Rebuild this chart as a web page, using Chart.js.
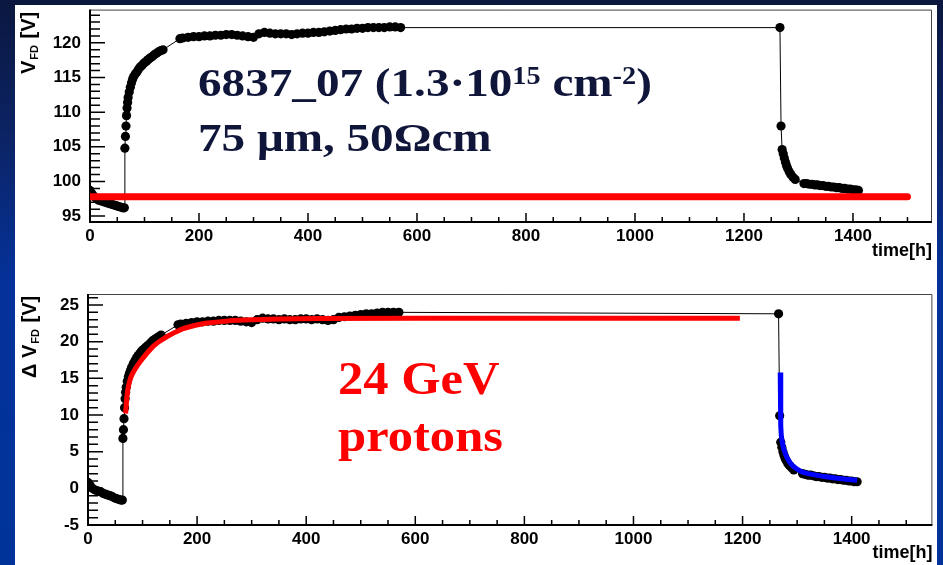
<!DOCTYPE html>
<html lang="en">
<head>
<meta charset="UTF-8">
<title>6837_07 full depletion voltage vs time</title>
<script src="https://cdn.jsdelivr.net/npm/chart.js"></script>
<style>
    body {
        margin: 0;
        width: 943px;
        height: 565px;
        overflow: hidden;
        position: relative;
        background: linear-gradient(180deg, #0a173f 0%, #0c2466 25%, #04329a 50%, #003399 100%);
        font-family: 'Liberation Sans', Arial, sans-serif;
    }
    .sheet { position: absolute; left: 15px; top: 5px; width: 922px; height: 560px; background: #fff; }
    .plot { position: absolute; left: 15px; width: 922px; }
    #topPlot { top: 5px; height: 265px; }
    #bottomPlot { top: 270px; height: 295px; }
    .ytitle {
        position: absolute;
        transform-origin: left top;
        transform: rotate(-90deg);
        white-space: nowrap;
        font-weight: bold;
        font-size: 20px;
        line-height: 20px;
        color: #000;
    }
    .ytitle sub { font-size: 11px; vertical-align: -3px; margin: 0 1px; }
    .note {
        position: absolute;
        white-space: nowrap;
        font-family: 'Liberation Serif', 'DejaVu Serif', serif;
        font-weight: bold;
        transform-origin: left top;
    }
    .note sup { font-size: 60%; vertical-align: 0.5em; line-height: 0; }
    .sample { left: 198px; font-size: 41px; line-height: 41px; color: #10163a; transform: scaleX(1.15); }
    .beam { left: 338px; font-size: 46px; line-height: 46px; color: #ff0000; transform: scaleX(1.1); }
</style>
</head>
<body>
<div class="sheet"></div>
<div class="plot" id="topPlot"><canvas id="vfdChart"></canvas></div>
<div class="plot" id="bottomPlot"><canvas id="dvfdChart"></canvas></div>

<div class="ytitle" style="left:18px; top:74px;">V<sub>FD</sub> [V]</div>
<div class="ytitle" style="left:19px; top:378px;">&Delta; V<sub>FD</sub> [V]</div>

<div class="note sample" style="top:62px;">6837_07 (1.3&middot;10<sup>15</sup> cm<sup>-2</sup>)</div>
<div class="note sample" style="top:117px;">75 &mu;m, 50&Omega;cm</div>
<div class="note beam" style="top:356px;">24 GeV</div>
<div class="note beam" style="top:413px;">protons</div>

<script>
// measurement times [h]
const hours = [
    0, 4, 8, 12, 16, 20, 24, 28, 32, 36, 40, 44, 48, 52, 56, 60, 63,
    64, 65, 66, 67, 68, 69, 70, 72, 74, 76, 78, 80, 83, 86, 89, 92, 95, 98, 101, 104, 107, 110, 114, 118, 122, 126, 130, 134,
    165, 170, 180, 190, 200, 210, 220, 230, 240, 250, 260, 270, 280, 290, 300, 310, 320, 330, 340, 350,
    360, 370, 380, 390, 400, 410, 420, 430, 440, 450, 460, 470, 480, 490, 500, 510, 520, 530, 540, 550, 560, 570,
    1266, 1268,
    1270, 1272, 1274, 1276, 1278, 1280, 1283, 1286, 1290, 1294,
    1310, 1315, 1320, 1325, 1330, 1335, 1340, 1345, 1350, 1355, 1360, 1365, 1370, 1375, 1380, 1385, 1390, 1395, 1400, 1405, 1410
];

// full depletion voltage V_FD [V]
const vfd = [
    98.7, 98.2, 97.8, 97.5, 97.3, 97.2, 97.1, 97.0, 96.9, 96.8, 96.7, 96.6, 96.5, 96.4, 96.3, 96.2, 96.2,
    104.8, 106.5, 108.0, 109.5, 110.6, 111.4, 112.1, 112.9, 113.6, 114.2, 114.7, 115.1, 115.5, 115.8, 116.2, 116.5, 116.7, 117.0, 117.2, 117.4, 117.6, 117.8, 118.0, 118.3, 118.5, 118.7, 118.9, 119.0,
    120.6, 120.7, 120.8, 120.9, 120.9, 121.0, 121.0, 121.1, 121.1, 121.2, 121.2, 121.1, 121.0, 120.9, 120.8, 121.3, 121.5, 121.4, 121.3, 121.3,
    121.3, 121.2, 121.3, 121.4, 121.4, 121.5, 121.5, 121.6, 121.7, 121.8, 121.9, 122.0, 122.0, 122.1, 122.1, 122.2, 122.2, 122.2, 122.2, 122.3, 122.3, 122.2,
    122.2, 108.0,
    104.6, 104.0, 103.4, 102.8, 102.3, 101.9, 101.4, 101.0, 100.6, 100.3,
    99.7, 99.7, 99.6, 99.6, 99.5, 99.5, 99.4, 99.4, 99.3, 99.3, 99.2, 99.2, 99.1, 99.1, 99.0, 99.0, 98.9, 98.9, 98.8, 98.8, 98.7
];

// change of full depletion voltage, Delta V_FD [V]
const dvfd = [
    0.8, 0.4, 0.0, -0.2, -0.3, -0.4, -0.5, -0.7, -0.8, -0.9, -1.0, -1.1, -1.3, -1.4, -1.5, -1.6, -1.6,
    6.8, 8.0, 9.5, 11.0, 12.2, 13.1, 13.8, 14.6, 15.2, 15.7, 16.1, 16.5, 17.0, 17.4, 17.8, 18.1, 18.4, 18.7, 18.9, 19.1, 19.3, 19.5, 19.8, 20.1, 20.3, 20.5, 20.7, 20.9,
    22.3, 22.4, 22.5, 22.6, 22.7, 22.7, 22.8, 22.8, 22.9, 22.9, 22.9, 22.9, 22.8, 22.7, 22.6, 23.0, 23.2, 23.1, 23.1, 23.0,
    23.1, 23.0, 23.0, 23.1, 23.1, 23.0, 23.1, 23.0, 22.9, 23.0, 23.3, 23.4, 23.5, 23.6, 23.7, 23.8, 23.8, 23.9, 24.0, 24.0, 24.0, 24.0,
    23.8, 9.9,
    6.3, 5.6, 5.0, 4.5, 4.1, 3.8, 3.4, 3.1, 2.8, 2.5,
    2.0, 1.9, 1.8, 1.8, 1.7, 1.6, 1.6, 1.5, 1.5, 1.4, 1.4, 1.3, 1.3, 1.2, 1.2, 1.1, 1.1, 1.0, 1.0, 0.9, 0.9
];

// initial V_FD level
const baseLineHours = [0, 1500];
const baseLineVfd = [97.8, 97.8];

// fit to the build-up during irradiation
const riseFitHours = [69, 71, 73, 75, 77, 80, 85, 90, 100, 110, 120, 130, 145, 160, 175, 195, 215, 240, 265, 300, 350, 420, 600, 1195];
const riseFitDvfd = [10.2, 12.3, 13.5, 14.2, 14.8, 15.4, 16.1, 16.7, 17.7, 18.6, 19.4, 20.0, 20.7, 21.3, 21.8, 22.2, 22.5, 22.7, 22.9, 23.0, 23.1, 23.15, 23.2, 23.2];

// fit to the decay after the beam stopped
const decayFitHours = [1269, 1270, 1271, 1273, 1275, 1278, 1282, 1287, 1293, 1300, 1310, 1320, 1335, 1350, 1370, 1390, 1410];
const decayFitDvfd = [15.8, 8.5, 7.2, 6.2, 5.5, 4.8, 4.1, 3.5, 3.0, 2.6, 2.2, 2.0, 1.8, 1.6, 1.4, 1.25, 1.1];

const timeTicks = [0, 200, 400, 600, 800, 1000, 1200, 1400];
const vfdTicks = [95, 100, 105, 110, 115, 120];
const dvfdTicks = [-5, 0, 5, 10, 15, 20, 25];

const pts = (xs, ys) => xs.map((x, i) => ({ x: x, y: ys[i] }));

// ROOT style frame: axes on left/bottom with inward ticks
const rootFrame = {
    id: 'rootFrame',
    beforeDatasetsDraw(chart) {
        const { ctx, chartArea: a, scales: { x, y } } = chart;
        ctx.save();
        ctx.strokeStyle = '#444';
        ctx.lineWidth = 1;
        ctx.beginPath();
        ctx.moveTo(a.left, a.top + 0.5);
        ctx.lineTo(a.right - 0.5, a.top + 0.5);
        ctx.lineTo(a.right - 0.5, a.bottom);
        ctx.stroke();

        ctx.strokeStyle = '#000';
        ctx.lineWidth = 1.5;
        ctx.beginPath();
        for (let v = 0; v <= x.max; v += 50) {
            const px = x.getPixelForValue(v);
            const len = v % 200 === 0 ? 9 : 5;
            ctx.moveTo(px, a.bottom);
            ctx.lineTo(px, a.bottom - len);
        }
        for (let v = Math.ceil(y.min); v <= y.max; v += 1) {
            const py = y.getPixelForValue(v);
            const len = v % 5 === 0 ? 15 : 10;
            ctx.moveTo(a.left, py);
            ctx.lineTo(a.left + len, py);
        }
        ctx.stroke();

        ctx.lineWidth = 2;
        ctx.beginPath();
        ctx.moveTo(a.left, a.top);
        ctx.lineTo(a.left, a.bottom);
        ctx.lineTo(a.right, a.bottom);
        ctx.stroke();
        ctx.restore();
    }
};

function makeChart(id, cfg) {
    const labelFont = { family: "'Liberation Sans', Arial, sans-serif", size: 17, weight: 'bold' };
    return new Chart(document.getElementById(id), {
        type: 'line',
        data: { datasets: cfg.datasets },
        options: {
            responsive: true,
            maintainAspectRatio: false,
            animation: false,
            events: [],
            layout: { padding: cfg.padding },
            plugins: { legend: { display: false }, tooltip: { enabled: false } },
            scales: {
                x: {
                    type: 'linear',
                    min: 0,
                    max: cfg.xMax,
                    afterBuildTicks: s => { s.ticks = timeTicks.map(v => ({ value: v })); },
                    grid: { display: false, drawTicks: false },
                    border: { display: false },
                    ticks: {
                        color: '#000', font: labelFont, padding: 4, maxRotation: 0, autoSkip: false,
                        callback: v => String(v)
                    },
                    title: {
                        display: true, text: 'time[h]', align: 'end', color: '#000',
                        font: { family: labelFont.family, size: 18, weight: 'bold' },
                        padding: { top: 0, bottom: cfg.titlePad }
                    },
                    afterFit: s => { s.height = cfg.xHeight; s.paddingLeft = 0; s.paddingRight = 0; }
                },
                y: {
                    type: 'linear',
                    min: cfg.yMin,
                    max: cfg.yMax,
                    afterBuildTicks: s => { s.ticks = cfg.yTicks.map(v => ({ value: v })); },
                    grid: { display: false, drawTicks: false },
                    border: { display: false },
                    ticks: { color: '#000', font: labelFont, padding: 9, autoSkip: false, callback: v => String(v) },
                    afterFit: s => { s.width = cfg.yWidth; s.paddingTop = 0; s.paddingBottom = 0; }
                }
            }
        },
        plugins: [rootFrame]
    });
}

const dataStyle = {
    borderColor: '#000',
    borderWidth: 1,
    pointRadius: 4.6,
    pointBackgroundColor: '#000',
    pointBorderWidth: 0,
    tension: 0
};

makeChart('vfdChart', {
    padding: { top: 1, right: 5, left: 0, bottom: 0 },
    xMax: 1545, yMin: 94.15, yMax: 124.8,
    xHeight: 48, yWidth: 75, titlePad: 8,
    yTicks: vfdTicks,
    datasets: [
        { data: pts(baseLineHours, baseLineVfd), borderColor: '#ff0000', borderWidth: 7, borderCapStyle: 'round', pointRadius: 0 },
        Object.assign({ data: pts(hours, vfd) }, dataStyle)
    ]
});

makeChart('dvfdChart', {
    padding: { top: 24, right: 1, left: 0, bottom: 0 },
    xMax: 1548, yMin: -5, yMax: 26.5,
    xHeight: 40, yWidth: 73, titlePad: 1,
    yTicks: dvfdTicks,
    datasets: [
        { data: pts(decayFitHours, decayFitDvfd), borderColor: '#0000ff', borderWidth: 5, pointRadius: 0 },
        { data: pts(riseFitHours, riseFitDvfd), borderColor: '#ff0000', borderWidth: 5, pointRadius: 0 },
        Object.assign({ data: pts(hours, dvfd) }, dataStyle)
    ]
});
</script>
</body>
</html>
